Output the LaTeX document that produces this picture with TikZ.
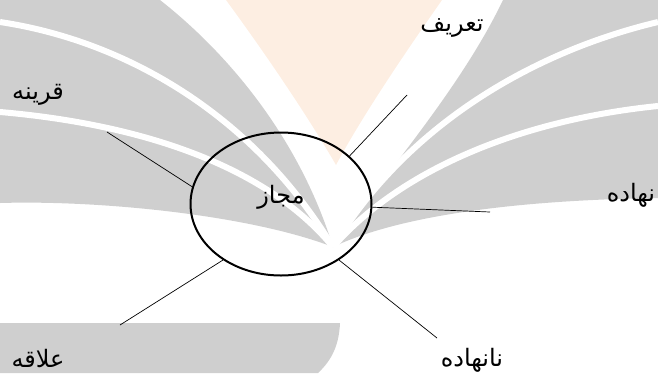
\documentclass[tikz,border=0pt]{standalone}
\usepackage{fontspec}
\newfontfamily\persianfont[Script=Arabic]{DejaVu Sans}
\TeXXeTstate=1
\usetikzlibrary{shapes.geometric}
\definecolor{bggray}{HTML}{CFCFCF}
\definecolor{peach}{HTML}{FBE0CA}

\begin{document}
\begin{tikzpicture}[x=1pt,y=-1pt,
  word/.style={font=\persianfont\fontsize{24}{28}\selectfont,inner sep=0pt},
  spoke/.style={line width=0.7pt}]
\useasboundingbox (0,0) rectangle (658,373);
% background
\shade[left color=peach!55,middle color=peach,right color=peach!55]
  (226,0) -- (442,0) .. controls (400,60) and (360,120) .. (336,165) .. controls (310,120) and (270,60) .. (226,0) -- cycle;
\fill[bggray] (0,0) -- (160,0) .. controls (230,55) and (300,140) .. (333,247)
  .. controls (250,215) and (100,200) .. (0,203) -- cycle;
\fill[bggray] (503,0) -- (658,0) -- (658,198) .. controls (520,200) and (400,215) .. (333,247)
  .. controls (380,180) and (460,90) .. (503,0) -- cycle;
\draw[white,line width=6pt] (0,22) .. controls (120,40) and (250,110) .. (333,247);
\draw[white,line width=6pt] (0,112) .. controls (150,125) and (270,170) .. (333,247);
\draw[white,line width=6pt] (658,22) .. controls (540,50) and (410,120) .. (333,247);
\draw[white,line width=6pt] (658,106) .. controls (520,120) and (400,170) .. (333,247);
\fill[bggray] (0,323) -- (340,323) .. controls (339,345) and (332,360) .. (318,373) -- (0,373) -- cycle;
% center
\node[draw,ellipse,line width=2pt,minimum width=181pt,minimum height=143pt,inner sep=0pt] (majaz) at (281,204) {};
\node[word] (majazText) at (281,197) {\beginR مجاز\endR};
% free ends
\coordinate (tTarif) at (407,95);
\coordinate (tQarine) at (107,132);
\coordinate (tNahade) at (490,212);
\coordinate (tAlaqe) at (120,325);
\coordinate (tNanahade) at (437,338);
\draw[spoke] (majaz.35) -- (tTarif);
\draw[spoke] (majaz.169) -- (tQarine);
\draw[spoke] (majaz.-2) -- (tNahade);
\draw[spoke] (majaz.224) -- (tAlaqe);
\draw[spoke] (majaz.-44) -- (tNanahade);
% labels
\node[word] (tarif) at (452,28) {\beginR تعریف\endR};
\node[word] (qarine) at (38,95) {\beginR قرینه\endR};
\node[word] (nahade) at (631,195) {\beginR نهاده\endR};
\node[word] (alaqe) at (38,358) {\beginR علاقه\endR};
\node[word] (nanahade) at (472,360) {\beginR نانهاده\endR};
\end{tikzpicture}
\end{document}
